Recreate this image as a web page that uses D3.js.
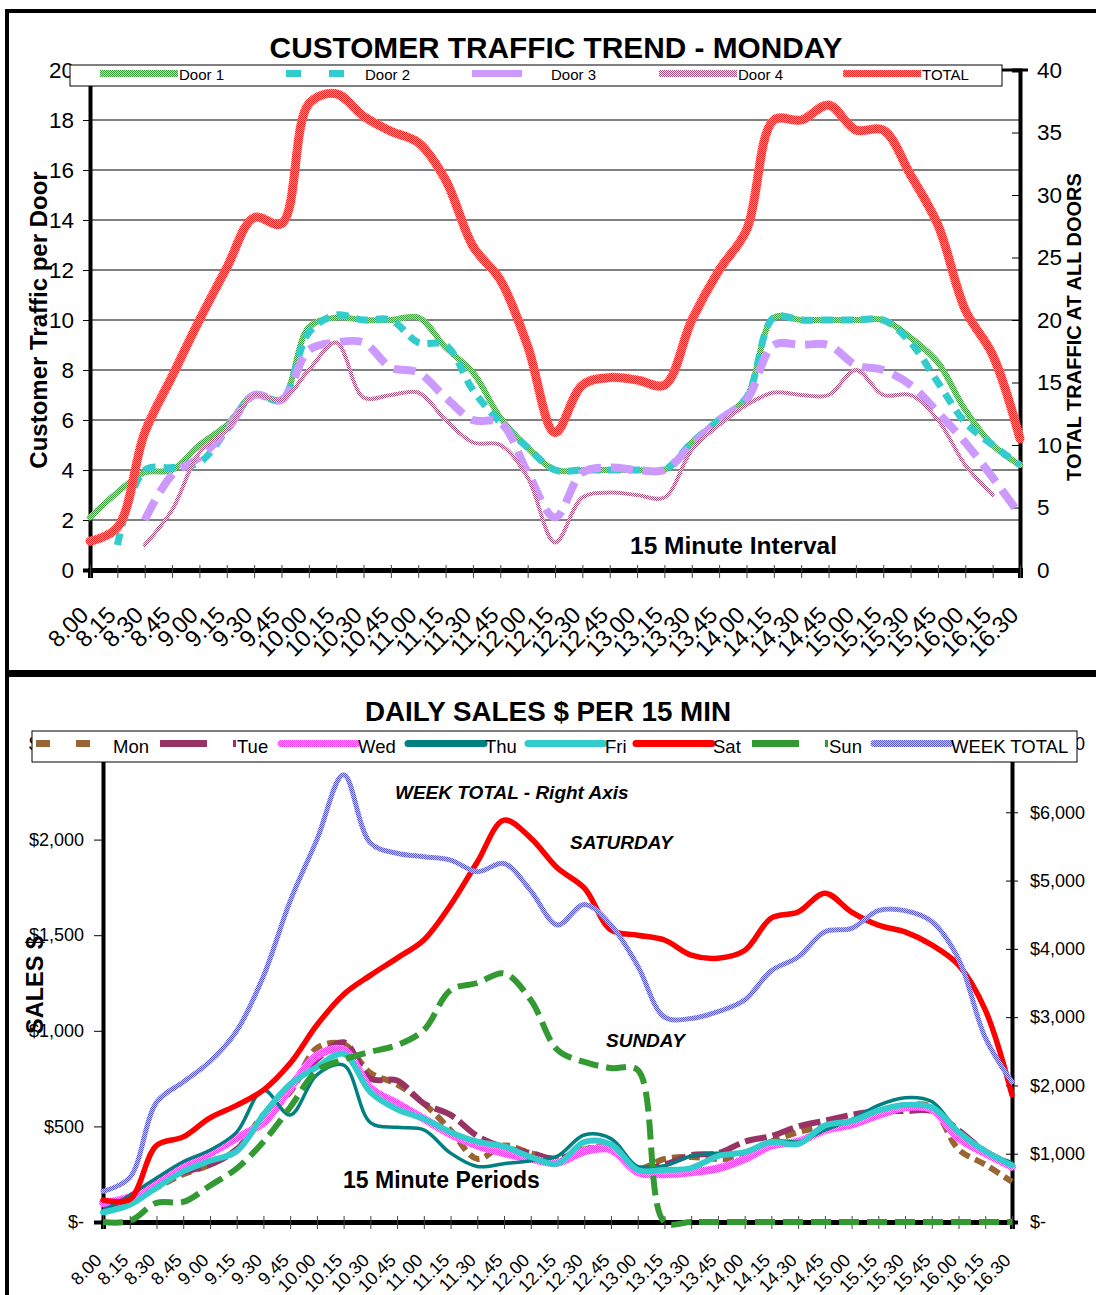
<!DOCTYPE html>
<html>
<head>
<meta charset="utf-8">
<script src="https://cdn.jsdelivr.net/npm/d3@7"></script>
<style>
  body { margin: 0; background: #fff; }
  svg { display: block; font-family: Arial, "Liberation Sans", sans-serif; }
</style>
</head>
<body>
<div id="vis-holder"></div>
<script>
// Category labels (15 minute steps)
const times = ["8.00","8.15","8.30","8.45","9.00","9.15","9.30","9.45","10.00","10.15",
  "10.30","10.45","11.00","11.15","11.30","11.45","12.00","12.15","12.30","12.45",
  "13.00","13.15","13.30","13.45","14.00","14.15","14.30","14.45","15.00","15.15",
  "15.30","15.45","16.00","16.15","16.30"];

// Customer traffic - Monday (per door, left axis)
const door1 = [2.1, 3.1, 3.9, 4.0, 5.0, 5.8, 7.0, 6.8, 9.7, 10.1, 10.0, 10.0, 10.1, 8.9, 7.9, 6.1, 4.9, 4.0,
  4.0, 4.0, 4.0, 4.0, 5.1, 6.0, 6.9, 10.1, 10.0, 10.0, 10.0, 10.0, 9.3, 8.3, 6.4, 5.0, 4.2];
const door2 = [null, 1.0, 4.0, 4.1, 4.3, 5.6, 7.0, 6.8, 9.5, 10.2, 10.0, 10.0, 9.1, 9.0, 7.2, 5.9, 4.9, 4.0,
  4.0, 4.0, 4.0, 4.0, 5.1, 6.0, 6.9, 10.1, 10.0, 10.0, 10.0, 10.0, 9.1, 7.5, 5.9, 5.0, 4.2];
const door3 = [null, null, 2.0, 3.8, 4.5, 5.6, 7.0, 6.8, 8.8, 9.1, 9.1, 8.1, 7.9, 6.9, 6.0, 5.9, 3.9, 2.1,
  3.9, 4.1, 4.0, 4.0, 5.0, 6.0, 6.8, 9.0, 9.0, 9.0, 8.2, 8.0, 7.4, 6.3, 5.1, 3.7, 2.2];
const door4 = [null, null, 1.0, 2.4, 4.7, 5.6, 7.0, 6.8, 8.0, 9.1, 6.9, 7.0, 7.1, 6.0, 5.1, 5.0, 3.7, 1.1,
  2.9, 3.1, 3.0, 2.9, 4.8, 5.8, 6.6, 7.1, 7.0, 7.0, 8.0, 7.0, 7.0, 6.0, 4.2, 3.0, null];
// total at all doors (right axis)
const total = [2.3, 3.4, 11.0, 15.5, 20.0, 24.2, 28.2, 27.7, 37.3, 38.1, 36.3, 35.1, 34.2, 31.2, 25.9, 23.2, 17.9, 11.0,
  14.8, 15.4, 15.2, 14.8, 20.0, 24.0, 27.2, 36.0, 36.0, 37.2, 35.2, 35.2, 31.6, 27.6, 20.8, 17.2, 10.5];

// Daily sales $ per 15 min (left axis)
const mon = [70, 110, 180, 250, 300, 380, 560, 680, 910, 930, 780, 720, 620, 480, 330, 400, 360, 330,
  380, 390, 280, 330, 340, 330, 340, 420, 470, 500, 520, 580, 610, 600, 380, 300, 210];
const tue = [80, 120, 200, 260, 300, 380, 550, 700, 850, 940, 750, 740, 620, 560, 450, 390, 360, 330,
  380, 380, 280, 300, 350, 360, 420, 450, 500, 530, 560, 580, 580, 580, 480, 370, 300];
const wed = [100, 130, 210, 300, 360, 440, 520, 700, 870, 900, 700, 620, 540, 460, 400, 360, 330, 310,
  370, 380, 260, 250, 260, 280, 330, 400, 420, 480, 510, 560, 600, 590, 440, 360, 290];
const thu = [60, 140, 230, 315, 375, 470, 690, 560, 770, 820, 520, 495, 482, 360, 290, 305, 320, 345,
  455, 436, 290, 295, 345, 360, 360, 425, 420, 480, 535, 610, 650, 630, 470, 370, 310];
const fri = [50, 90, 180, 265, 320, 370, 560, 720, 810, 880, 680, 590, 540, 470, 420, 395, 340, 305,
  418, 405, 272, 272, 282, 345, 365, 418, 408, 505, 528, 583, 612, 600, 470, 370, 295];
const sat = [115, 118, 400, 445, 545, 610, 690, 830, 1030, 1190, 1290, 1380, 1475, 1658, 1883, 2102, 2008, 1851,
  1747, 1527, 1500, 1475, 1396, 1380, 1420, 1590, 1621, 1720, 1621, 1553, 1517, 1449, 1344, 1109, 664];
const sun = [0, 5, 100, 105, 190, 280, 420, 600, 790, 850, 890, 925, 1004, 1213, 1250, 1300, 1161, 900,
  837, 805, 795, 0, 0, 0, 0, 0, 0, 0, 0, 0, 0, 0, 0, 0, 0];
// week total (right axis)
const weekTotal = [450, 650, 1750, 2050, 2350, 2800, 3600, 4700, 5600, 6550, 5550, 5400, 5350, 5300, 5130, 5250, 4850, 4350,
  4650, 4350, 3750, 3000, 2980, 3080, 3250, 3680, 3880, 4250, 4300, 4560, 4560, 4400, 3850, 2700, 2050];

// Axis tick values
const doorTicks = d3.range(0, 21, 2);
const totalTicks = d3.range(0, 41, 5);
const salesTicks = d3.range(0, 2501, 500);
const weekTicks = d3.range(0, 7001, 1000);

const width = 1096, height = 1295;
const font = 'Arial, "Liberation Sans", sans-serif';

const svg = d3.select("#vis-holder")
    .append("svg")
    .attr("width", width)
    .attr("height", height);

// checkered fills to imitate the dithered Excel lines
const defs = svg.append("defs");
function dither(id, c1, c2) {
  const p = defs.append("pattern")
      .attr("id", id)
      .attr("patternUnits", "userSpaceOnUse")
      .attr("width", 2).attr("height", 2);
  p.append("rect").attr("width", 2).attr("height", 2).attr("fill", c2);
  p.append("rect").attr("width", 1).attr("height", 1).attr("fill", c1);
  p.append("rect").attr("x", 1).attr("y", 1).attr("width", 1).attr("height", 1).attr("fill", c1);
}
dither("dRed", "#ff1a1a", "#ffaaaa");
dither("dGreen", "#3f9f3f", "#b4dcb4");
dither("dPink", "#a84a78", "#fbe8f0");
dither("dMagenta", "#ff33ff", "#ffc4ff");
dither("dBlue", "#5a5ad2", "#c4c4f2");

// Outer frame
svg.append("line").attr("x1", 5).attr("x2", width).attr("y1", 11).attr("y2", 11)
    .attr("stroke", "#000").attr("stroke-width", 4);
svg.append("line").attr("x1", 7).attr("x2", 7).attr("y1", 9).attr("y2", height)
    .attr("stroke", "#000").attr("stroke-width", 4);
svg.append("line").attr("x1", 5).attr("x2", width).attr("y1", 673.5).attr("y2", 673.5)
    .attr("stroke", "#000").attr("stroke-width", 7);

// ---------------- Chart 1: customer traffic ----------------
const p1 = { left: 90, right: 1020, top: 70, bottom: 570 };

const x1 = d3.scalePoint().domain(times).range([p1.left, p1.right]);
const yDoor = d3.scaleLinear().domain([0, 20]).range([p1.bottom, p1.top]);
const yTotal = d3.scaleLinear().domain([0, 40]).range([p1.bottom, p1.top]);

const g1 = svg.append("g");

// gridlines
g1.selectAll(".grid")
    .data(doorTicks.filter(d => d > 0 && d < 20))
    .enter()
    .append("line")
    .attr("x1", p1.left).attr("x2", p1.right)
    .attr("y1", d => yDoor(d)).attr("y2", d => yDoor(d))
    .attr("stroke", "#000").attr("stroke-width", 1);
g1.append("line")
    .attr("x1", p1.left).attr("x2", p1.right + 8)
    .attr("y1", yDoor(20)).attr("y2", yDoor(20))
    .attr("stroke", "#000").attr("stroke-width", 3);

// left axis
g1.append("g")
    .attr("transform", `translate(${p1.left},0)`)
    .call(d3.axisLeft(yDoor).tickValues(doorTicks).tickSize(7).tickPadding(9))
    .call(g => g.select(".domain").attr("stroke-width", 4))
    .call(g => g.selectAll("text").attr("font-size", 22.5).attr("font-family", font).attr("fill", "#000"));

// right axis
g1.append("g")
    .attr("transform", `translate(${p1.right},0)`)
    .call(d3.axisRight(yTotal).tickValues(totalTicks).tickSize(-8).tickPadding(17))
    .call(g => g.select(".domain").attr("stroke-width", 4))
    .call(g => g.selectAll("text").attr("font-size", 22.5).attr("font-family", font).attr("fill", "#000"));

// bottom axis
g1.append("g")
    .attr("transform", `translate(0,${p1.bottom})`)
    .call(d3.axisBottom(x1).tickSize(8).tickPadding(0))
    .call(g => g.select(".domain").attr("stroke-width", 5))
    .call(g => g.selectAll(".tick line").attr("y1", -5).attr("stroke", "#444"))
    .call(g => g.selectAll("text")
        .attr("font-size", 23.5).attr("font-family", font).attr("fill", "#000")
        .attr("text-anchor", "end")
        .attr("dy", "0.35em")
        .attr("transform", "translate(-12,35) rotate(-45)"));

// series
const line1 = (scale) => d3.line()
    .defined(d => d != null)
    .x((d, i) => x1(times[i]))
    .y(d => scale(d))
    .curve(d3.curveCatmullRom.alpha(0.5));

const traffic = [
  { name: "Door 1", values: door1, scale: yDoor, stroke: "url(#dGreen)", width: 6, dash: null, legendDash: null },
  { name: "Door 2", values: door2, scale: yDoor, stroke: "#33cccc", width: 7, dash: "12,8", legendDash: "15,28" },
  { name: "Door 3", values: door3, scale: yDoor, stroke: "#cc99ff", width: 8, dash: "22,10", legendDash: "50,28" },
  { name: "Door 4", values: door4, scale: yDoor, stroke: "url(#dPink)", width: 4, dash: null, legendDash: null },
  { name: "TOTAL", values: total, scale: yTotal, stroke: "url(#dRed)", width: 9, dash: null, legendDash: null }
];

g1.selectAll(".series")
    .data(traffic)
    .enter()
    .append("path")
    .attr("fill", "none")
    .attr("stroke", d => d.stroke)
    .attr("stroke-width", d => d.width)
    .attr("stroke-dasharray", d => d.dash)
    .attr("stroke-linecap", d => d.dash ? "butt" : "round")
    .attr("stroke-linejoin", "round")
    .attr("d", d => line1(d.scale)(d.values));

// legend
const leg1X = [100, 286, 472, 659, 843];
g1.append("rect")
    .attr("x", 70).attr("y", 65).attr("width", 932).attr("height", 21)
    .attr("fill", "#fff").attr("stroke", "#000").attr("stroke-width", 1);
traffic.forEach((s, i) => {
  g1.append("line")
      .attr("x1", leg1X[i]).attr("x2", leg1X[i] + 78)
      .attr("y1", 73.5).attr("y2", 73.5)
      .attr("stroke", s.stroke).attr("stroke-width", 7)
      .attr("stroke-dasharray", s.legendDash);
  g1.append("text")
      .attr("x", leg1X[i] + 79).attr("y", 80)
      .attr("font-size", 15).attr("font-family", font)
      .text(s.name);
});

// titles
g1.append("text")
    .attr("x", 556).attr("y", 58)
    .attr("text-anchor", "middle")
    .attr("font-size", 29.8).attr("font-weight", "bold")
    .text("CUSTOMER TRAFFIC TREND - MONDAY");
g1.append("text")
    .attr("transform", "translate(47,320) rotate(-90)")
    .attr("text-anchor", "middle")
    .attr("font-size", 24).attr("font-weight", "bold")
    .text("Customer Traffic per Door");
g1.append("text")
    .attr("transform", "translate(1081,327) rotate(-90)")
    .attr("text-anchor", "middle")
    .attr("font-size", 20).attr("font-weight", "bold")
    .text("TOTAL TRAFFIC AT ALL DOORS");
g1.append("text")
    .attr("x", 630).attr("y", 554)
    .attr("font-size", 24.5).attr("font-weight", "bold")
    .text("15 Minute Interval");

// ---------------- Chart 2: daily sales ----------------
const p2 = { left: 103, right: 1012, top: 744, bottom: 1222 };

const x2 = d3.scalePoint().domain(times).range([p2.left, p2.right]);
const ySales = d3.scaleLinear().domain([0, 2500]).range([p2.bottom, p2.top]);
const yWeek = d3.scaleLinear().domain([0, 7000]).range([p2.bottom, p2.top]);

const dollars = d => d === 0 ? "$-" : "$" + d3.format(",")(d);

const g2 = svg.append("g");

g2.append("g")
    .attr("transform", `translate(${p2.left},0)`)
    .call(d3.axisLeft(ySales).tickValues(salesTicks).tickSize(9).tickPadding(10).tickFormat(dollars))
    .call(g => g.select(".domain").attr("stroke-width", 4))
    .call(g => g.selectAll("text").attr("font-size", 18).attr("font-family", font).attr("fill", "#000"));

g2.append("g")
    .attr("transform", `translate(${p2.right},0)`)
    .call(d3.axisRight(yWeek).tickValues(weekTicks).tickSize(6).tickPadding(12).tickFormat(dollars))
    .call(g => g.select(".domain").attr("stroke-width", 4))
    .call(g => g.selectAll(".tick line").attr("x1", -6))
    .call(g => g.selectAll("text").attr("font-size", 18).attr("font-family", font).attr("fill", "#000"));

g2.append("g")
    .attr("transform", `translate(0,${p2.bottom})`)
    .call(d3.axisBottom(x2).tickSize(7).tickPadding(0))
    .call(g => g.select(".domain").attr("stroke-width", 5))
    .call(g => g.selectAll(".tick line").attr("y1", -6).attr("stroke", "#444"))
    .call(g => g.selectAll("text")
        .attr("font-size", 18).attr("font-family", font).attr("fill", "#000")
        .attr("text-anchor", "end")
        .attr("dy", "0.35em")
        .attr("transform", "translate(-10,30) rotate(-45)"));

const line2 = (scale) => d3.line()
    .x((d, i) => x2(times[i]))
    .y(d => scale(d))
    .curve(d3.curveCatmullRom.alpha(0.5));

const sales = [
  { name: "Mon", values: mon, scale: ySales, stroke: "#996633", width: 6, dash: "11,6", legendDash: "14,26" },
  { name: "Tue", values: tue, scale: ySales, stroke: "#993366", width: 6, dash: "22,6", legendDash: "47,26" },
  { name: "Wed", values: wed, scale: ySales, stroke: "url(#dMagenta)", width: 8, dash: null, legendDash: null },
  { name: "Thu", values: thu, scale: ySales, stroke: "#008080", width: 3.5, dash: null, legendDash: null },
  { name: "Fri", values: fri, scale: ySales, stroke: "#33cccc", width: 6, dash: null, legendDash: null },
  { name: "Sat", values: sat, scale: ySales, stroke: "#ff0000", width: 5.5, dash: null, legendDash: null },
  { name: "Sun", values: sun, scale: ySales, stroke: "#339933", width: 6, dash: "20,8", legendDash: "47,26" },
  { name: "WEEK TOTAL", values: weekTotal, scale: yWeek, stroke: "url(#dBlue)", width: 5, dash: null, legendDash: null }
];

g2.selectAll(".series")
    .data(sales)
    .enter()
    .append("path")
    .attr("fill", "none")
    .attr("stroke", d => d.stroke)
    .attr("stroke-width", d => d.width)
    .attr("stroke-dasharray", d => d.dash)
    .attr("stroke-linecap", d => d.dash ? "butt" : "round")
    .attr("stroke-linejoin", "round")
    .attr("d", d => line2(d.scale)(d.values));

// legend
const leg2X = [36, 160, 281, 408, 528, 636, 752, 874];
g2.append("rect")
    .attr("x", 32).attr("y", 731).attr("width", 1045).attr("height", 31)
    .attr("fill", "#fff").attr("stroke", "#000").attr("stroke-width", 1);
sales.forEach((s, i) => {
  g2.append("line")
      .attr("x1", leg2X[i]).attr("x2", leg2X[i] + 76)
      .attr("y1", 743.5).attr("y2", 743.5)
      .attr("stroke", s.stroke).attr("stroke-width", 7)
      .attr("stroke-linecap", s.legendDash ? "butt" : "round")
      .attr("stroke-dasharray", s.legendDash);
  g2.append("text")
      .attr("x", leg2X[i] + 77).attr("y", 753)
      .attr("font-size", 18.5).attr("font-family", font)
      .text(s.name);
});

// titles and notes
g2.append("text")
    .attr("x", 548).attr("y", 721)
    .attr("text-anchor", "middle")
    .attr("font-size", 27.8).attr("font-weight", "bold")
    .text("DAILY SALES $ PER 15 MIN");
g2.append("text")
    .attr("transform", "translate(43,985) rotate(-90)")
    .attr("text-anchor", "middle")
    .attr("font-size", 23.5).attr("font-weight", "bold")
    .text("SALES $");
g2.append("text")
    .attr("x", 395).attr("y", 799)
    .attr("font-size", 19).attr("font-weight", "bold").attr("font-style", "italic")
    .text("WEEK TOTAL - Right Axis");
g2.append("text")
    .attr("x", 570).attr("y", 849)
    .attr("font-size", 19).attr("font-weight", "bold").attr("font-style", "italic")
    .text("SATURDAY");
g2.append("text")
    .attr("x", 606).attr("y", 1047)
    .attr("font-size", 19).attr("font-weight", "bold").attr("font-style", "italic")
    .text("SUNDAY");
g2.append("text")
    .attr("x", 343).attr("y", 1188)
    .attr("font-size", 23).attr("font-weight", "bold")
    .text("15 Minute Periods");
</script>
</body>
</html>
